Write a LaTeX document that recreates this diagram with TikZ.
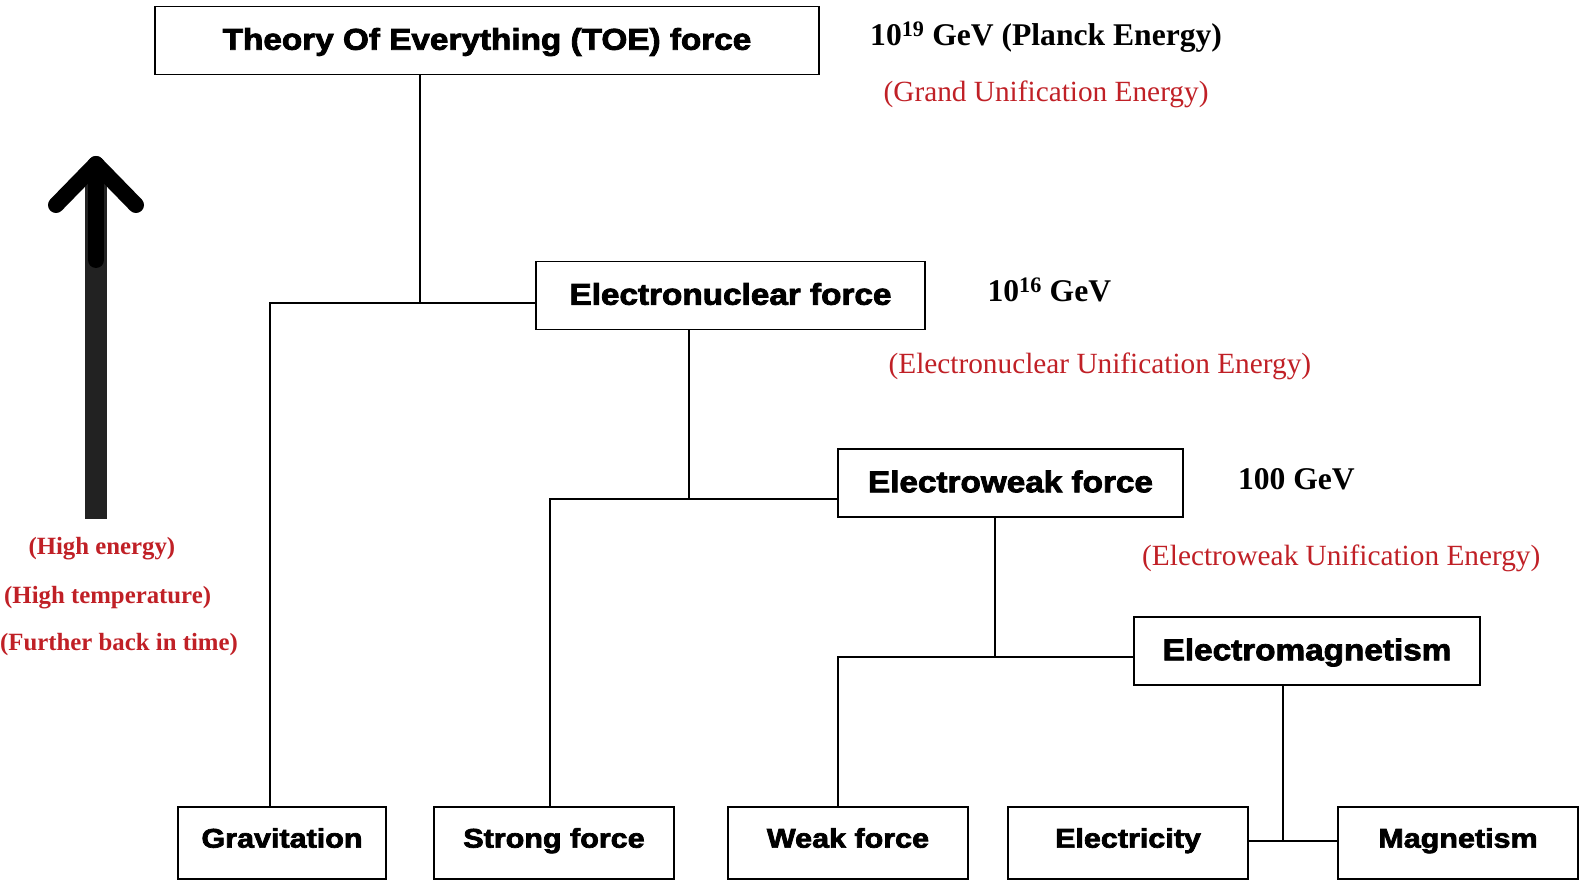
\documentclass[tikz,border=0pt]{standalone}
\usepackage{fontspec}
\setmainfont{Liberation Serif}
\newfontfamily\boxfont{Liberation Sans}[BoldFeatures={FakeBold=2.5}]
\usetikzlibrary{calc}
\definecolor{redtxt}{RGB}{192,32,38}
\definecolor{shaftgray}{RGB}{34,34,34}
\newcommand{\wbox}[1]{\raisebox{1.5pt}{\scalebox{1.11}[1]{#1}}}
\newcommand{\lowtxt}[1]{\raisebox{5pt}{\scalebox{1.13}[1]{#1}}}
\begin{document}
\begin{tikzpicture}[x=1pt,y=-1pt,
  box/.style={draw=black, line width=1.9pt, fill=white, inner sep=0pt,
    font=\boxfont\bfseries\fontsize{30}{36}\selectfont, text height=21.5pt, text depth=0pt},
  upper/.style={box, minimum height=68pt},
  lower/.style={box, minimum height=72pt, minimum width=240pt,
    font=\boxfont\bfseries\fontsize{27}{32}\selectfont, text height=19.3pt},
  conn/.style={line width=1.9pt},
  energy/.style={anchor=west, inner sep=0pt, font=\bfseries\fontsize{31.6}{36}\selectfont},
  unif/.style={anchor=west, inner sep=0pt, text=redtxt, font=\fontsize{29.3}{34}\selectfont},
  side/.style={anchor=west, inner sep=0pt, text=redtxt, font=\bfseries\fontsize{24.8}{30}\selectfont}]
\useasboundingbox (0,0) rectangle (1583,888);

% boxes
\node[upper, minimum width=664pt] (toe) at (487,40.5) {\wbox{Theory Of Everything (TOE) force}};
\node[upper, minimum width=389pt] (enuc) at (730.5,295.5) {\wbox{Electronuclear force}};
\node[upper, minimum width=345pt] (ew) at (1010.5,483) {\wbox{Electroweak force}};
\node[upper, minimum width=346pt] (em) at (1307,651) {\wbox{Electromagnetism}};
\node[lower, minimum width=208pt] (grav) at (282,843) {\lowtxt{Gravitation}};
\node[lower] (strong) at (554,843) {\lowtxt{Strong force}};
\node[lower] (weak) at (848,843) {\lowtxt{Weak force}};
\node[lower] (elec) at (1128,843) {\lowtxt{Electricity}};
\node[lower] (mag) at (1458,843) {\lowtxt{Magnetism}};

% connectors
\coordinate (j1) at ($(enuc.west)+(0,7.5)$);
\coordinate (t1) at ([xshift=-67pt]toe.south);
\coordinate (g1) at ([xshift=-12pt]grav.north);
\draw[conn] (g1) |- (j1);
\draw[conn] (t1) -- (t1 |- j1);

\coordinate (j2) at ($(ew.west)+(0,16)$);
\coordinate (t2) at ([xshift=-41.5pt]enuc.south);
\coordinate (s1) at ([xshift=-4pt]strong.north);
\draw[conn] (s1) |- (j2);
\draw[conn] (t2) -- (t2 |- j2);

\coordinate (j3) at ($(em.west)+(0,6)$);
\coordinate (t3) at ([xshift=-15.5pt]ew.south);
\coordinate (w1) at ([xshift=-10pt]weak.north);
\draw[conn] (w1) |- (j3);
\draw[conn] (t3) -- (t3 |- j3);

\coordinate (j4) at ($(elec.east)+(0,-2)$);
\coordinate (t4) at ([xshift=-24pt]em.south);
\draw[conn] (j4) -- (j4 -| mag.west);
\draw[conn] (t4) -- (t4 |- j4);

% energy labels
\node[energy] (e19) at (870,37) {10\textsuperscript{19} GeV (Planck Energy)};
\node[unif] (gue) at (883.4,94) {(Grand Unification Energy)};
\node[energy] (e16) at (987.4,289.8) {10\textsuperscript{16} GeV};
\node[unif] (enue) at (888.4,366) {(Electronuclear Unification Energy)};
\node[energy] (e2) at (1237.8,479) {100 GeV};
\node[unif] (ewue) at (1142,558.5) {(Electroweak Unification Energy)};

% arrow
\fill[shaftgray] (85,166) rectangle (107,519);
\draw[black, line width=16pt, line cap=round, line join=round] (56,205) -- (96,164) -- (136,205);
\draw[black, line width=16pt, line cap=round] (96,164) -- (96,260);

% side labels
\node[side] (he) at (28.3,549) {(High energy)};
\node[side] (ht) at (4,597.5) {(High temperature)};
\node[side] (fb) at (0,645) {(Further back in time)};
\end{tikzpicture}
\end{document}
